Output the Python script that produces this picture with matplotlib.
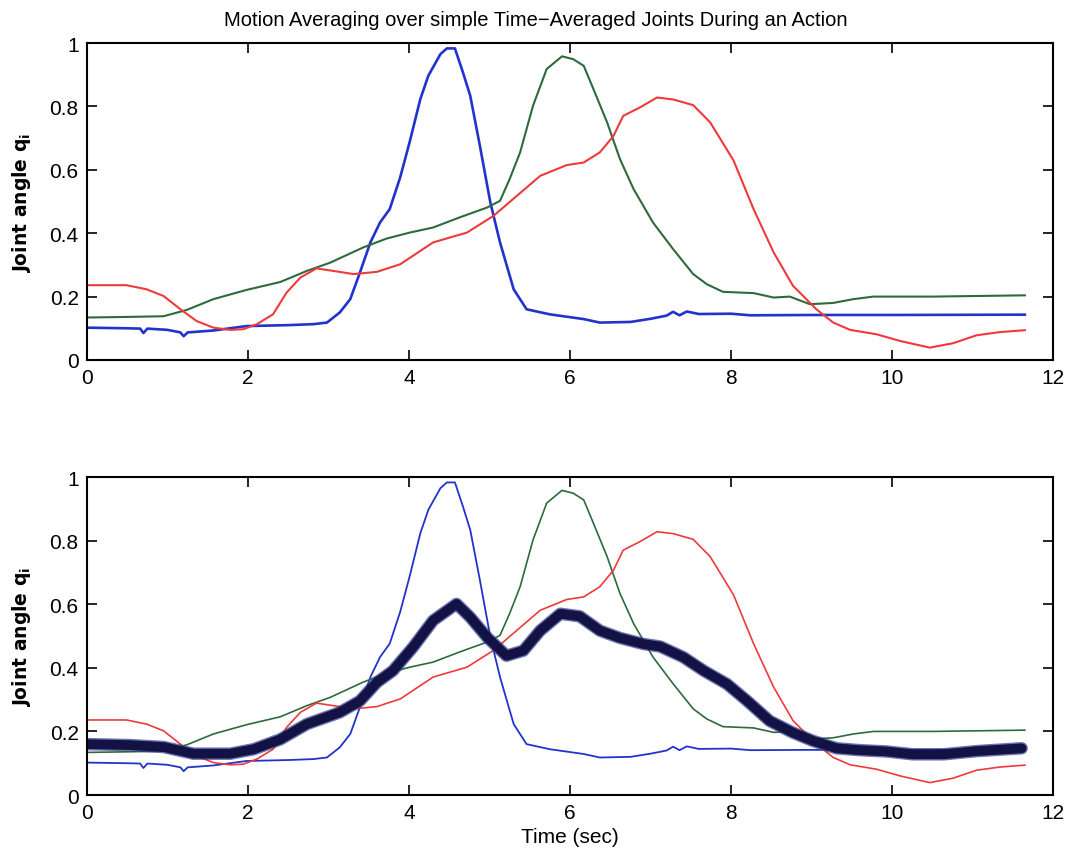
import numpy as np
import matplotlib
matplotlib.use('Agg')
import matplotlib.pyplot as plt

plt.rcParams['font.family'] = ['Liberation Sans Narrow', 'Liberation Sans', 'DejaVu Sans']

# joint trajectories (time in sec, joint angle)
t_blue = [0, 0.5, 0.66, 0.7, 0.75, 1.0, 1.16, 1.2, 1.25, 1.57, 1.98, 2.5, 2.81, 2.98,
          3.14, 3.27, 3.39, 3.52, 3.64, 3.76, 3.89, 4.01, 4.14, 4.24, 4.39, 4.47, 4.57,
          4.67, 4.76, 4.88, 5.01, 5.13, 5.30, 5.46, 5.75, 6.17, 6.37, 6.75, 7.0, 7.2,
          7.28, 7.36, 7.45, 7.6, 8.0, 8.24, 9.0, 10.0, 11.65]
q_blue = [0.102, 0.10, 0.099, 0.085, 0.099, 0.095, 0.087, 0.075, 0.087, 0.093, 0.107,
          0.11, 0.113, 0.118, 0.15, 0.192, 0.276, 0.371, 0.434, 0.476, 0.576, 0.69,
          0.823, 0.897, 0.965, 0.983, 0.983, 0.907, 0.834, 0.676, 0.497, 0.371, 0.223,
          0.160, 0.144, 0.129, 0.118, 0.12, 0.13, 0.14, 0.152, 0.141, 0.153, 0.145,
          0.146, 0.141, 0.142, 0.142, 0.143]

t_green = [0, 0.53, 0.95, 1.24, 1.57, 1.98, 2.40, 2.73, 3.02, 3.43, 3.72, 4.01, 4.30,
           4.63, 4.97, 5.13, 5.25, 5.38, 5.54, 5.71, 5.90, 6.04, 6.17, 6.29, 6.46, 6.62,
           6.79, 7.03, 7.28, 7.53, 7.70, 7.90, 8.28, 8.53, 8.73, 8.98, 9.27, 9.52, 9.77,
           10.51, 11.65]
q_green = [0.134, 0.136, 0.138, 0.158, 0.192, 0.221, 0.246, 0.281, 0.307, 0.355, 0.383,
           0.402, 0.418, 0.45, 0.481, 0.502, 0.571, 0.655, 0.802, 0.918, 0.958, 0.949,
           0.928, 0.855, 0.75, 0.634, 0.539, 0.434, 0.35, 0.271, 0.239, 0.215, 0.211,
           0.197, 0.2, 0.176, 0.18, 0.192, 0.2, 0.2, 0.204]

t_red = [0, 0.49, 0.74, 0.95, 1.16, 1.36, 1.57, 1.78, 1.94, 2.11, 2.31, 2.48, 2.65, 2.85,
         3.06, 3.31, 3.60, 3.89, 4.30, 4.72, 5.05, 5.34, 5.63, 5.96, 6.17, 6.37, 6.54,
         6.66, 6.87, 7.08, 7.28, 7.53, 7.74, 8.03, 8.28, 8.53, 8.77, 9.06, 9.27, 9.48,
         9.81, 10.10, 10.47, 10.76, 11.05, 11.34, 11.65]
q_red = [0.236, 0.236, 0.223, 0.202, 0.16, 0.123, 0.102, 0.095, 0.097, 0.113, 0.144,
         0.213, 0.26, 0.289, 0.281, 0.271, 0.278, 0.302, 0.371, 0.402, 0.455, 0.518,
         0.581, 0.615, 0.623, 0.655, 0.707, 0.77, 0.797, 0.828, 0.822, 0.804, 0.75,
         0.63, 0.476, 0.339, 0.234, 0.16, 0.118, 0.095, 0.081, 0.06, 0.039, 0.053,
         0.078, 0.088, 0.094]

# motion average (thick line, bottom panel)
t_avg = [0, 0.53, 0.95, 1.32, 1.78, 2.07, 2.40, 2.73, 3.14, 3.39, 3.60, 3.80, 4.05, 4.30,
         4.59, 4.76, 4.97, 5.21, 5.42, 5.63, 5.88, 6.12, 6.37, 6.62, 6.91, 7.12, 7.41,
         7.66, 7.95, 8.20, 8.48, 8.77, 9.02, 9.31, 9.60, 9.93, 10.26, 10.64, 11.05, 11.61]
q_avg = [0.16, 0.157, 0.151, 0.13, 0.13, 0.144, 0.175, 0.223, 0.26, 0.296, 0.354, 0.391,
         0.465, 0.549, 0.601, 0.559, 0.496, 0.438, 0.454, 0.517, 0.57, 0.562, 0.517,
         0.494, 0.475, 0.467, 0.433, 0.391, 0.349, 0.296, 0.233, 0.196, 0.17, 0.147,
         0.141, 0.137, 0.128, 0.128, 0.138, 0.147]

xticks = [0, 2, 4, 6, 8, 10, 12]
yticks = [0, 0.2, 0.4, 0.6, 0.8, 1]
ytick_labels = ['0', '0.2', '0.4', '0.6', '0.8', '1']

c_blue = '#2233cc'
c_green = '#2f6a3c'
c_red = '#ee3a3a'

fig = plt.figure(figsize=(10.72, 8.53), dpi=100)
ax1 = fig.add_axes([0.0812, 0.5768, 0.9011, 0.3716])
ax2 = fig.add_axes([0.0812, 0.0668, 0.9011, 0.3728])

ax1.plot(t_blue, q_blue, color=c_blue, lw=1.9)
ax1.plot(t_green, q_green, color=c_green, lw=1.5)
ax1.plot(t_red, q_red, color=c_red, lw=1.5)

ax2.plot(t_blue, q_blue, color=c_blue, lw=1.3)
ax2.plot(t_green, q_green, color=c_green, lw=1.2)
ax2.plot(t_red, q_red, color=c_red, lw=1.2)
ax2.plot(t_avg, q_avg, color='#2c3a8c', lw=9, alpha=0.7, solid_capstyle='round')
ax2.plot(t_avg, q_avg, color='#121245', lw=7, solid_capstyle='round')

for ax in (ax1, ax2):
    ax.set_xlim(0, 12)
    ax.set_ylim(0, 1)
    ax.set_xticks(xticks)
    ax.set_yticks(yticks)
    ax.set_yticklabels(ytick_labels)
    ax.tick_params(direction='in', length=7, width=1.2, top=True, right=True,
                   labelsize=15, pad=6)
    for s in ax.spines.values():
        s.set_linewidth(1.5)
    ax.set_ylabel('Joint angle q$_\\mathregular{i}$', fontsize=13.5, fontweight='bold',
                  family='DejaVu Sans', labelpad=12)

fig.text(0.5, 0.976, 'Motion Averaging over simple Time\u2212Averaged Joints During an Action',
         ha='center', va='center', fontsize=14.5)
ax2.set_xlabel('Time (sec)', fontsize=15, labelpad=3)

fig.savefig('out.png', dpi=100)
